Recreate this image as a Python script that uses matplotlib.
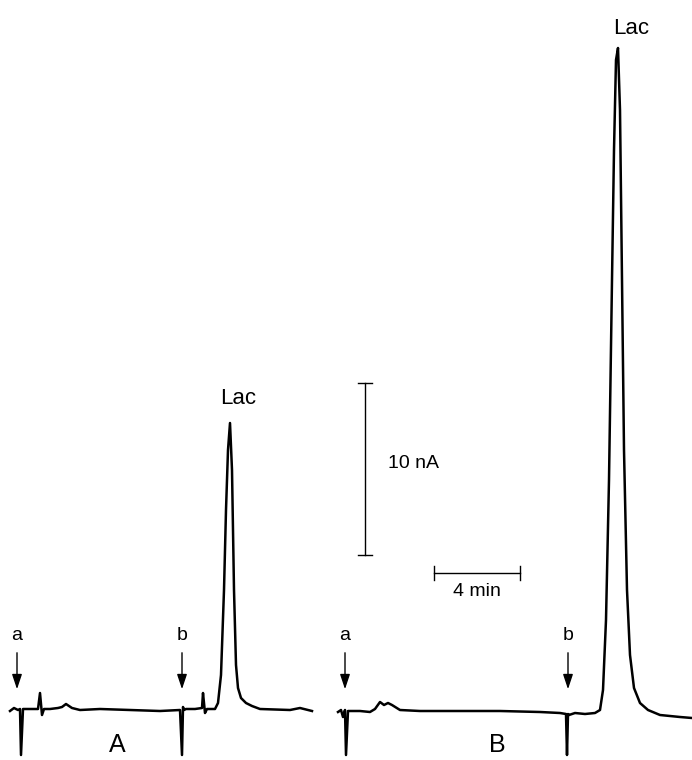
import matplotlib
matplotlib.use("Agg")
import matplotlib.pyplot as plt

plt.rcParams['font.family'] = ['Liberation Sans', 'DejaVu Sans']

# Trace A
trace_a_x = [10, 14, 18, 20, 21, 23, 30, 38, 40, 42, 44, 50, 58, 62, 66, 72, 80, 100, 130, 160, 180, 182, 183, 184, 186, 195, 202, 203, 205, 207, 215, 218, 221, 224, 226, 228, 230, 232, 234, 236, 238, 241, 246, 252, 260, 290, 300, 312]
trace_a_y = [711, 708, 710, 709, 755, 709, 709, 709, 693, 715, 709, 709, 708, 707, 704, 708, 710, 709, 710, 711, 710, 755, 707, 710, 709, 709, 708, 693, 713, 709, 709, 703, 675, 590, 510, 450, 423, 470, 590, 665, 688, 698, 703, 706, 709, 710, 708, 711]

# Trace B
trace_b_x = [338, 341, 343, 345, 346, 348, 360, 370, 375, 380, 384, 388, 392, 400, 420, 460, 500, 540, 560, 566, 567, 568, 569, 575, 585, 595, 600, 603, 606, 609, 612, 614, 616, 618, 620, 622, 624, 627, 630, 634, 640, 648, 660, 680, 692]
trace_b_y = [712, 710, 717, 710, 755, 711, 711, 712, 709, 702, 705, 703, 705, 710, 711, 711, 711, 712, 713, 714, 755, 714, 715, 713, 714, 713, 710, 690, 620, 480, 280, 150, 60, 48, 110, 280, 450, 590, 655, 688, 703, 710, 715, 717, 718]

arrow_x = [17, 182, 345, 568]
arrow_labels = ["a", "b", "a", "b"]
peak_labels = [(238, 398, "Lac"), (631, 28, "Lac")]
panel_labels = [(117, 745, "A"), (497, 745, "B")]

fig = plt.figure(figsize=(6.92, 7.6), dpi=100)
ax = fig.add_axes([0, 0, 1, 1])
ax.set_xlim(0, 692)
ax.set_ylim(760, 0)
ax.axis("off")

lw = 1.8
ax.plot(trace_a_x, trace_a_y, color="black", lw=lw, solid_joinstyle="round")
ax.plot(trace_b_x, trace_b_y, color="black", lw=lw, solid_joinstyle="round")

for x, lab in zip(arrow_x, arrow_labels):
    ax.text(x, 636, lab, ha="center", va="center", fontsize=14)
    ax.annotate("", xy=(x, 692), xytext=(x, 650),
                arrowprops=dict(arrowstyle="-|>,head_length=0.9,head_width=0.3", color="black", lw=1.0))

for x, y, t in peak_labels:
    ax.text(x, y, t, ha="center", va="center", fontsize=16)
for x, y, t in panel_labels:
    ax.text(x, y, t, ha="center", va="center", fontsize=18)

# scale bars
ax.plot([365, 365], [383, 555], color="black", lw=1.0)
ax.plot([358, 372], [383, 383], color="black", lw=1.0)
ax.plot([358, 372], [555, 555], color="black", lw=1.0)
ax.text(388, 464, "10 nA", ha="left", va="center", fontsize=14)
ax.plot([434, 520], [573, 573], color="black", lw=1.0)
ax.plot([434, 434], [566, 580], color="black", lw=1.0)
ax.plot([520, 520], [566, 580], color="black", lw=1.0)
ax.text(477, 591, "4 min", ha="center", va="center", fontsize=14)

fig.savefig("out.png", dpi=100)
